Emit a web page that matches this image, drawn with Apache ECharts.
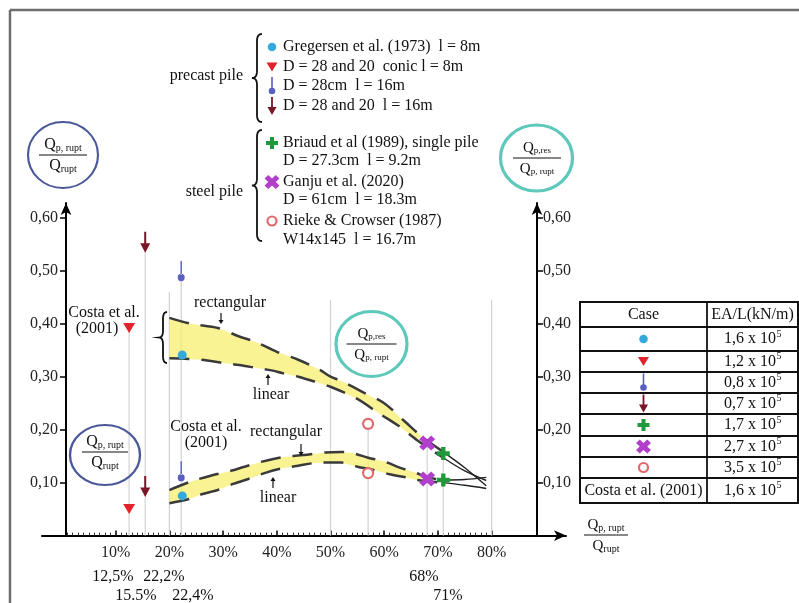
<!DOCTYPE html>
<html>
<head>
<meta charset="utf-8">
<script src="https://cdn.jsdelivr.net/npm/echarts@6/dist/echarts.min.js"></script>
<style>
html, body { margin: 0; padding: 0; background: #fff; }
#chart { width: 799px; height: 603px; }
</style>
</head>
<body>
<div id="chart"></div>
<script>
const FONT = '"Liberation Serif", "Times New Roman", serif';

// ---- axes ----
const xTicks = [10, 20, 30, 40, 50, 60, 70, 80];          // Qp,rupt / Qrupt (%)
const yTicks = [0.1, 0.2, 0.3, 0.4, 0.5, 0.6];

// ---- individual pile tests ----
const caseNames = ['Gregersen et al. (1973)', 'D = 28 and 20 conic', 'D = 28cm', 'D = 28 and 20',
                   'Briaud et al (1989)', 'Ganju et al. (2020)', 'Rieke & Crowser (1987)'];
const caseLoad  = [22.4, 12.5, 22.2, 15.5, 71, 68, 57];            // x position (%)
const caseRupt  = [0.075, 0.050, 0.109, 0.073, 0.105, 0.107, 0.118]; // Qp,rupt / Qrupt
const caseRes   = [0.341, 0.392, 0.487, 0.534, 0.155, 0.175, 0.211]; // Qp,res / Qp,rupt
const caseEAL   = ['1,6', '1,2', '0,8', '0,7', '1,7', '2,7', '3,5']; // EA/L x 10^5 kN/m
const costaEAL  = '1,6';

// ---- Costa et al. (2001) envelopes ----
const resRectX = [20, 24, 29, 33, 36, 40, 44, 48, 50, 52, 56, 60, 64, 67, 71, 75, 79];
const resRectY = [0.411, 0.400, 0.392, 0.376, 0.366, 0.347, 0.332, 0.313, 0.300, 0.292, 0.271, 0.250, 0.214, 0.187, 0.158, 0.128, 0.094];
const resLinX  = [20, 26, 30, 33, 36, 39, 41, 44, 47, 50, 55, 59, 63, 66, 71, 75, 79];
const resLinY  = [0.335, 0.332, 0.326, 0.322, 0.317, 0.312, 0.307, 0.300, 0.291, 0.281, 0.258, 0.231, 0.205, 0.181, 0.147, 0.122, 0.104];
const ruptRectX = [20, 24, 28, 31, 34, 37, 41, 45, 49, 52, 54, 57, 60, 63, 66, 68, 71, 75, 79];
const ruptRectY = [0.086, 0.102, 0.114, 0.121, 0.130, 0.139, 0.148, 0.152, 0.157, 0.158, 0.156, 0.147, 0.140, 0.128, 0.118, 0.110, 0.105, 0.106, 0.110];
const ruptLinX  = [20, 24, 26, 29, 32, 35, 38, 41, 44, 47, 50, 52, 55, 58, 61, 64, 66, 71, 75, 79];
const ruptLinY  = [0.061, 0.070, 0.078, 0.086, 0.098, 0.108, 0.119, 0.127, 0.132, 0.137, 0.138, 0.138, 0.130, 0.124, 0.116, 0.110, 0.105, 0.100, 0.095, 0.089];

// ---- thin vertical reference lines ----
const guideX   = [12.5, 15.5, 20, 22.2, 50, 57, 68, 71, 80];
const guideTop = [0.392, 0.57, 0.46, 0.52, 0.445, 0.211, 0.175, 0.155, 0.445];

// ---- texts ----
const precastLines = ['Gregersen et al. (1973)  l = 8m', 'D = 28 and 20  conic l = 8m', 'D = 28cm  l = 16m', 'D = 28 and 20  l = 16m'];
const steelLines = ['Briaud et al (1989), single pile', 'D = 27.3cm  l = 9.2m', 'Ganju et al. (2020)', 'D = 61cm  l = 18.3m', 'Rieke & Crowser (1987)', 'W14x145  l = 16.7m'];
const loadLabels = ['12,5%', '22,2%', '15.5%', '22,4%', '68%', '71%'];

// ---- marker styling ----
const COLORS = ['#35a9dc', '#e3232b', '#5a60c2', '#7a1626', '#1f9a3a', '#b23fcc', '#e06a6a'];
const KINDS = ['dot', 'tri', 'therm', 'arrow', 'plus', 'cross', 'ring'];
const PTS = {
  tri: [[0,0],[12,0],[6,10]],
  arrow: [[4,0],[6,0],[6,11],[10,11],[5,20],[0,11],[4,11]],
  plus: [[4,0],[8,0],[8,4],[12,4],[12,8],[8,8],[8,12],[4,12],[4,8],[0,8],[0,4],[4,4]],
  cross: [[0,4],[4,0],[8,4],[12,0],[16,4],[12,8],[16,12],[12,16],[8,12],[4,16],[0,12],[4,8]]
};
const toPath = pts => 'path://M' + pts.map(p => p.join(',')).join(' L') + ' Z';
const SYMBOL = {
  dot: 'circle',
  ring: 'circle',
  tri: toPath(PTS.tri),
  arrow: toPath(PTS.arrow),
  plus: toPath(PTS.plus),
  cross: toPath(PTS.cross),
  therm: 'path://M4.3,0 L5.7,0 L5.7,13 L4.3,13 Z M1.5,15.5 A3.5,3.5 0 1 0 8.5,15.5 A3.5,3.5 0 1 0 1.5,15.5 Z'
};
const SIZE = { dot: 9, ring: 10, tri: [12, 10], arrow: [10, 21], plus: 13, cross: [16, 15], therm: [7, 20] };
const OFFSET = { arrow: [0, -10.5], therm: [0, -6.5] };

// ---- helpers for drawn decorations ----
const mctx = document.createElement('canvas').getContext('2d');
function tw(t, size) { mctx.font = size + 'px "Liberation Serif"'; return mctx.measureText(t).width; }
function txt(text, x, y, size, align, color) {
  return { type: 'text', x: x, y: y, z: 20,
    style: { text: text, font: size + 'px ' + FONT, fill: color || '#111',
             textAlign: align || 'center', align: align || 'center',
             textVerticalAlign: 'middle', verticalAlign: 'middle' } };
}
function qText(cx, cy, sub, qSize, subSize) {
  const wq = tw('Q', qSize), ws = tw(sub, subSize);
  const x0 = cx - (wq + ws) / 2;
  return [txt('Q', x0, cy, qSize, 'left'), txt(sub, x0 + wq, cy + qSize * 0.2, subSize, 'left')];
}
function fraction(cx, cy, topSub, botSub, w, qSize, subSize) {
  return [
    ...qText(cx, cy - 10, topSub, qSize, subSize),
    { type: 'line', z: 20, shape: { x1: cx - w / 2, y1: cy, x2: cx + w / 2, y2: cy }, style: { stroke: '#111', lineWidth: 1.2 } },
    ...qText(cx, cy + 11, botSub, qSize, subSize)
  ];
}
function ellipse(cx, cy, rx, ry, color, lw) {
  return { type: 'circle', x: cx, y: cy, scaleX: rx / ry, z: 19,
    shape: { cx: 0, cy: 0, r: ry }, style: { fill: null, stroke: color, lineWidth: lw, strokeNoScale: true } };
}
function bracePts(x, y1, y2, w) {
  const ym = (y1 + y2) / 2, xm = x + w / 2, r = Math.min(7, (y2 - y1) / 7);
  const quad = (p0, p1, p2) => { const o = []; for (let t = 0; t <= 1.0001; t += 0.125) {
    const a = (1 - t) * (1 - t), b = 2 * (1 - t) * t, c = t * t;
    o.push([a * p0[0] + b * p1[0] + c * p2[0], a * p0[1] + b * p1[1] + c * p2[1]]); } return o; };
  return [].concat(
    quad([x + w, y1], [xm, y1], [xm, y1 + r]),
    quad([xm, ym - r], [xm, ym], [x, ym]),
    quad([x, ym], [xm, ym], [xm, ym + r]),
    quad([xm, y2 - r], [xm, y2], [x + w, y2]));
}
function brace(x, y1, y2, w) {
  return { type: 'polyline', z: 20, shape: { points: bracePts(x, y1, y2, w) },
    style: { fill: null, stroke: '#111', lineWidth: 1.8 } };
}
function polyAt(pts, cx, cy, w, h, color) {
  let mx = 0, my = 0; pts.forEach(p => { mx = Math.max(mx, p[0]); my = Math.max(my, p[1]); });
  return { type: 'polygon', z: 21, shape: { points: pts.map(p => [cx - w / 2 + p[0] / mx * w, cy - h / 2 + p[1] / my * h]) },
    style: { fill: color } };
}
function glyph(i, cx, cy) {
  const k = KINDS[i], c = COLORS[i];
  if (k === 'dot') return [{ type: 'circle', z: 21, shape: { cx: cx, cy: cy, r: 4.3 }, style: { fill: c } }];
  if (k === 'ring') return [{ type: 'circle', z: 21, shape: { cx: cx, cy: cy, r: 4.5 }, style: { fill: '#fff', stroke: c, lineWidth: 2.2 } }];
  if (k === 'therm') return [
    { type: 'rect', z: 21, shape: { x: cx - 0.8, y: cy - 9, width: 1.6, height: 13 }, style: { fill: c } },
    { type: 'circle', z: 21, shape: { cx: cx, cy: cy + 5, r: 3.3 }, style: { fill: c } }];
  const dims = { tri: [11, 9], arrow: [9, 18], plus: [12, 12], cross: [15, 14] }[k];
  return [polyAt(PTS[k], cx, cy, dims[0], dims[1], c)];
}
function smallArrow(x, yFrom, yTo) {
  const dir = yTo > yFrom ? 1 : -1;
  return [
    { type: 'line', z: 20, shape: { x1: x, y1: yFrom, x2: x, y2: yTo - dir * 3 }, style: { stroke: '#111', lineWidth: 1.2 } },
    { type: 'polygon', z: 20, shape: { points: [[x - 2.5, yTo - dir * 4], [x + 2.5, yTo - dir * 4], [x, yTo]] }, style: { fill: '#111' } }
  ];
}

// ---- graphic decorations ----
const G = [];
// frame
G.push({ type: 'line', z: 18, shape: { x1: 10, y1: 10, x2: 799, y2: 10 }, style: { stroke: '#6e6e6e', lineWidth: 2.5 } });
G.push({ type: 'line', z: 18, shape: { x1: 10, y1: 10, x2: 10, y2: 603 }, style: { stroke: '#6e6e6e', lineWidth: 2.5 } });

// axis title circles
G.push(ellipse(63, 155, 35, 33, '#4a5899', 2));
G.push(...fraction(63, 155, 'p, rupt', 'rupt', 48, 16, 10));
G.push(ellipse(536.5, 158, 36, 33, '#5ec9bb', 3));
G.push(...fraction(537, 158, 'p,res', 'p, rupt', 48, 15, 9));
G.push(ellipse(371.5, 344, 35.5, 32.5, '#5ec9bb', 3));
G.push(...fraction(371.5, 344, 'p,res', 'p, rupt', 50, 15, 9));
G.push(ellipse(105, 455, 35, 30, '#4a5899', 2));
G.push(...fraction(105, 452, 'p, rupt', 'rupt', 46, 16, 10));
G.push(...fraction(606, 535, 'p, rupt', 'rupt', 44, 15, 10));

// legend block
G.push(brace(252, 34, 122, 10));
G.push(txt('precast pile', 243, 76, 16, 'right'));
const precastY = [47, 67, 86, 106];
precastLines.forEach((t, i) => { G.push(...glyph(i, 272, precastY[i])); G.push(txt(t, 283, precastY[i], 16, 'left')); });
G.push(brace(252, 130, 241, 10));
G.push(txt('steel pile', 243, 192, 16, 'right'));
const steelY = [143, 161, 182, 200, 221, 240];
steelLines.forEach((t, i) => G.push(txt(t, 283, steelY[i], 16, 'left')));
G.push(...glyph(4, 272, 143), ...glyph(5, 272, 182), ...glyph(6, 272, 221));

// plot annotations
G.push(txt('Costa et al.', 104, 313, 16), txt('(2001)', 97, 329, 16));
G.push(txt('Costa et al.', 206, 427, 16), txt('(2001)', 206, 443, 16));
G.push(txt('rectangular', 230, 303, 16), ...smallArrow(221, 313, 324));
G.push(txt('linear', 271, 395, 16), ...smallArrow(268, 385, 374));
G.push(txt('rectangular', 286, 432, 16), ...smallArrow(301, 444, 456));
G.push(txt('linear', 278, 498, 16), ...smallArrow(273, 488, 477));
G.push(brace(159, 312, 363, 8));

// x positions of the tests
const loadPos = [[113, 577], [164, 577], [136, 596], [193, 596], [424, 577], [448, 596]];
loadLabels.forEach((t, i) => G.push(txt(t, loadPos[i][0], loadPos[i][1], 16)));

// table of axial stiffness
const tb = [302, 327, 351, 372, 393, 414, 436, 457, 478, 503];
const tc = [580, 707, 798];
G.push({ type: 'rect', z: 18, shape: { x: tc[0], y: tb[0], width: tc[2] - tc[0], height: tb[9] - tb[0] },
  style: { fill: '#fff', stroke: '#111', lineWidth: 2 } });
for (let r = 1; r < tb.length - 1; r++)
  G.push({ type: 'line', z: 19, shape: { x1: tc[0], y1: tb[r], x2: tc[2], y2: tb[r] }, style: { stroke: '#111', lineWidth: 1.8 } });
G.push({ type: 'line', z: 19, shape: { x1: tc[1], y1: tb[0], x2: tc[1], y2: tb[9] }, style: { stroke: '#111', lineWidth: 1.8 } });
const cc0 = (tc[0] + tc[1]) / 2, cc1 = (tc[1] + tc[2]) / 2;
G.push(txt('Case', cc0, (tb[0] + tb[1]) / 2, 16), txt('EA/L(kN/m)', cc1, (tb[0] + tb[1]) / 2, 16));
function eaCell(val, cy) {
  const base = val + ' x 10', wb = tw(base, 16), ws = tw('5', 10);
  const x0 = cc1 - (wb + ws) / 2;
  return [txt(base, x0, cy, 16, 'left'), txt('5', x0 + wb + 0.5, cy - 5, 10, 'left')];
}
caseEAL.forEach((v, i) => {
  const cy = (tb[i + 1] + tb[i + 2]) / 2;
  G.push(...glyph(i, cc0, cy), ...eaCell(v, cy));
});
G.push(txt('Costa et al. (2001)', cc0, (tb[8] + tb[9]) / 2, 16), ...eaCell(costaEAL, (tb[8] + tb[9]) / 2));

// ---- series ----
const series = [];
series.push({
  type: 'custom', name: 'guides', z: 1, silent: true,
  data: guideX.map((x, i) => [x, guideTop[i]]),
  renderItem: (params, api) => {
    const a = api.coord([api.value(0), 0]), b = api.coord([api.value(0), api.value(1)]);
    return { type: 'line', shape: { x1: a[0], y1: a[1], x2: b[0], y2: b[1] }, style: { stroke: '#d2d2d2', lineWidth: 1.2 } };
  }
});
function band(upX, upY, loX, loY, xEnd) {
  return {
    type: 'custom', z: 2, silent: true, data: [[upX[0], upY[0]]],
    renderItem: (params, api) => {
      const pts = [];
      upX.forEach((x, i) => { if (x <= xEnd) pts.push(api.coord([x, upY[i]])); });
      for (let i = loX.length - 1; i >= 0; i--) if (loX[i] <= xEnd) pts.push(api.coord([loX[i], loY[i]]));
      return { type: 'polygon', shape: { points: pts }, style: { fill: 'rgba(246,238,105,0.72)' } };
    }
  };
}
series.push(band(resRectX, resRectY, resLinX, resLinY, 70));
series.push(band(ruptRectX, ruptRectY, ruptLinX, ruptLinY, 70));

function curve(xs, ys) {
  const pts = xs.map((x, i) => [x, ys[i]]);
  return [
    { type: 'line', z: 3, silent: true, showSymbol: false, smooth: 0.3, data: pts.filter(p => p[0] <= 71),
      lineStyle: { color: '#3a3a3a', width: 2.5, type: [20, 12] } },
    { type: 'line', z: 3, silent: true, showSymbol: false, smooth: 0.3, data: pts.filter(p => p[0] >= 71),
      lineStyle: { color: '#222', width: 1.4 } }
  ];
}
series.push(...curve(resRectX, resRectY), ...curve(resLinX, resLinY),
            ...curve(ruptRectX, ruptRectY), ...curve(ruptLinX, ruptLinY));

caseLoad.forEach((x, i) => {
  const k = KINDS[i];
  series.push({
    type: 'scatter', name: caseNames[i], z: 6, silent: true,
    data: [[x, caseRupt[i]], [x, caseRes[i]]],
    symbol: SYMBOL[k], symbolSize: SIZE[k], symbolOffset: OFFSET[k] || [0, 0],
    itemStyle: k === 'ring' ? { color: '#fff', borderColor: COLORS[i], borderWidth: 2.2, opacity: 1 }
                            : { color: COLORS[i], opacity: 1 }
  });
});

const yFmt = v => v.toFixed(2).replace('.', ',');
const yAxisBase = {
  type: 'value', min: 0, max: 0.628, splitLine: { show: false },
  axisLine: { show: true, onZero: false, symbol: ['none', 'arrow'], symbolSize: [8, 12], lineStyle: { color: '#000', width: 2 } },
  axisTick: { show: true, customValues: yTicks, length: 6, lineStyle: { color: '#000', width: 1.5 } },
  axisLabel: { customValues: yTicks, formatter: yFmt, fontFamily: FONT, fontSize: 16, color: '#222' }
};

const option = {
  animation: false,
  backgroundColor: '#fff',
  grid: { left: 42, right: 233, top: 203, bottom: 67.4, containLabel: false },
  xAxis: [
    {
      type: 'value', min: -3.72, max: 93.85, position: 'bottom', splitLine: { show: false },
      axisLine: { show: true, onZero: false, symbol: ['none', 'arrow'], symbolSize: [8, 12], lineStyle: { color: '#000', width: 2 } },
      axisTick: { show: true, customValues: xTicks, inside: true, length: 5, lineStyle: { color: '#000', width: 1.5 } },
      axisLabel: { customValues: xTicks, formatter: v => v + '%', fontFamily: FONT, fontSize: 16, color: '#222', margin: 9 }
    },
    {
      type: 'value', min: -3.72, max: 93.85, position: 'bottom', splitLine: { show: false },
      axisLine: { show: false, onZero: false },
      axisTick: { show: true, customValues: Array.from({ length: 80 }, (_, i) => i + 1), inside: true, length: 3,
                  lineStyle: { color: '#333', width: 1 } },
      axisLabel: { show: false }
    }
  ],
  yAxis: [
    Object.assign({}, yAxisBase, { position: 'left', offset: -24, axisLabel: Object.assign({}, yAxisBase.axisLabel, { margin: 8 }) }),
    Object.assign({}, yAxisBase, { position: 'right', offset: -29, axisLabel: Object.assign({}, yAxisBase.axisLabel, { margin: 6 }) })
  ],
  series: series,
  graphic: { elements: G }
};

const chart = echarts.init(document.getElementById('chart'));
chart.setOption(option);
</script>
</body>
</html>
